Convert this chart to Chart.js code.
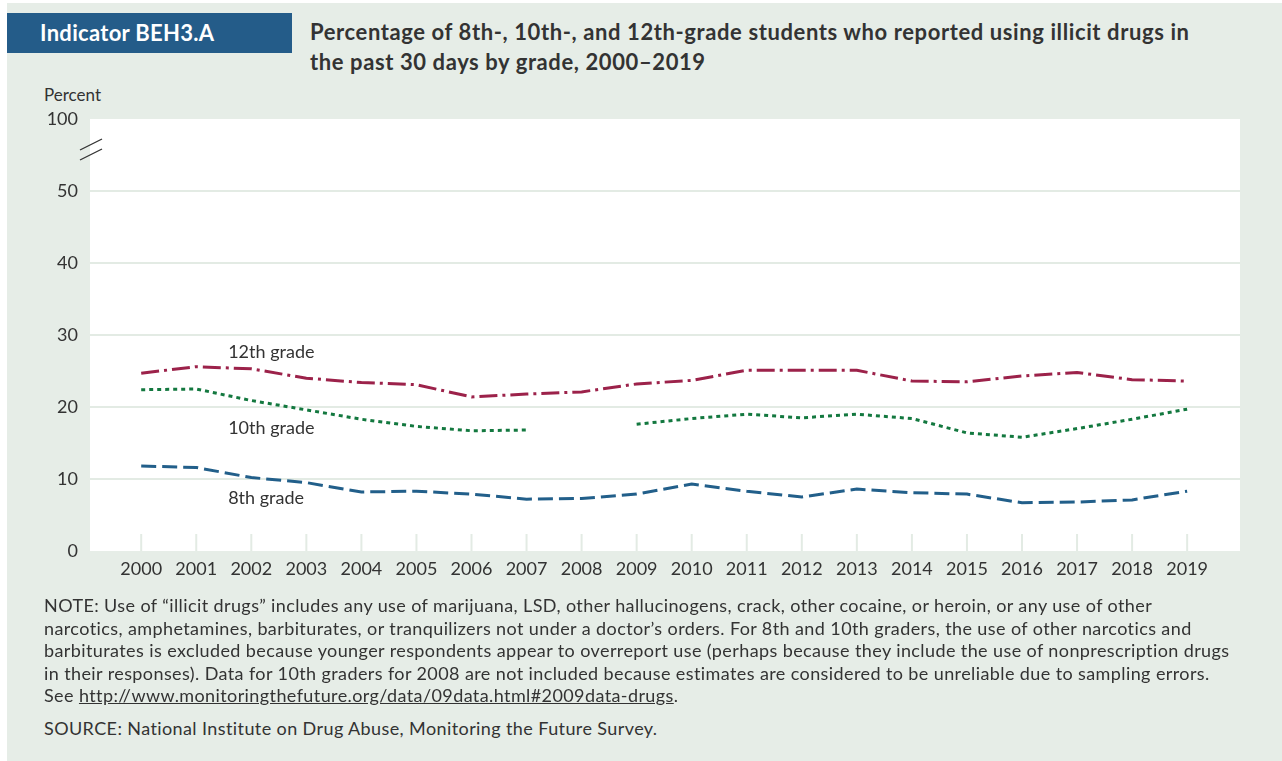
<!DOCTYPE html>
<html lang="en">
<head>
    <meta charset="UTF-8">
    <title>Indicator BEH3.A</title>
    <script src="https://cdn.jsdelivr.net/npm/chart.js"></script>
    <style>
        body {
            margin: 0;
            width: 1282px;
            height: 761px;
            background-color: #fff;
            font-family: 'Lato', sans-serif;
            color: #333;
            position: relative;
            overflow: hidden;
        }
        #fondo {
            position: absolute;
            left: 7px;
            top: 3px;
            width: 1275px;
            height: 758px;
            background-color: #e6ede7;
        }
        #indicador {
            position: absolute;
            left: 7px;
            top: 13px;
            width: 285px;
            height: 40px;
            background-color: #245c89;
            color: #fff;
            font-weight: bold;
            font-size: 22px;
            letter-spacing: 0.3px;
            line-height: 40px;
            box-sizing: border-box;
            padding-left: 33px;
        }
        #titulo {
            position: absolute;
            left: 310px;
            top: 17px;
            font-weight: bold;
            font-size: 22px;
            letter-spacing: 0.6px;
            line-height: 30px;
            color: #333;
            white-space: nowrap;
        }
        #percent {
            position: absolute;
            left: 44px;
            top: 84px;
            font-size: 17px;
        }
        #nota {
            position: absolute;
            left: 44px;
            top: 594px;
            font-size: 18px;
            letter-spacing: 0.4px;
            line-height: 22.5px;
            color: #333;
            white-space: nowrap;
        }
        #nota a { color: #333; }
        #fuente {
            position: absolute;
            left: 44px;
            top: 717px;
            font-size: 18px;
            letter-spacing: 0.4px;
        }
        #chartBox {
            position: absolute;
            left: 0;
            top: 0;
            width: 1282px;
            height: 600px;
        }
    </style>
</head>
<body>
    <div id="fondo"></div>
    <div id="indicador">Indicator BEH3.A</div>
    <div id="titulo">Percentage of 8th-, 10th-, and 12th-grade students who reported using illicit drugs in<br>the past 30 days by grade, 2000–2019</div>
    <div id="percent">Percent</div>
    <div id="chartBox"><canvas id="grafico" width="1282" height="600"></canvas></div>
    <div id="nota">NOTE: Use of “illicit drugs” includes any use of marijuana, LSD, other hallucinogens, crack, other cocaine, or heroin, or any use of other<br>narcotics, amphetamines, barbiturates, or tranquilizers not under a doctor’s orders. For 8th and 10th graders, the use of other narcotics and<br>barbiturates is excluded because younger respondents appear to overreport use (perhaps because they include the use of nonprescription drugs<br>in their responses). Data for 10th graders for 2008 are not included because estimates are considered to be unreliable due to sampling errors.<br>See <a href="#">http://www.monitoringthefuture.org/data/09data.html#2009data-drugs</a>.</div>
    <div id="fuente">SOURCE: National Institute on Drug Abuse, Monitoring the Future Survey.</div>

    <script>
        // Datos
        const years = [2000, 2001, 2002, 2003, 2004, 2005, 2006, 2007, 2008, 2009,
                       2010, 2011, 2012, 2013, 2014, 2015, 2016, 2017, 2018, 2019];
        const grade12 = [24.7, 25.6, 25.3, 24.0, 23.4, 23.1, 21.4, 21.8, 22.1, 23.2,
                         23.7, 25.1, 25.1, 25.1, 23.6, 23.5, 24.3, 24.8, 23.8, 23.6];
        const grade10 = [22.4, 22.5, 20.9, 19.6, 18.3, 17.3, 16.7, 16.8, null, 17.6,
                         18.4, 19.0, 18.5, 19.0, 18.4, 16.4, 15.8, 17.0, 18.3, 19.7];
        const grade8 = [11.8, 11.6, 10.2, 9.5, 8.2, 8.3, 7.9, 7.2, 7.3, 7.9,
                        9.3, 8.3, 7.5, 8.6, 8.1, 7.9, 6.7, 6.8, 7.1, 8.3];
        // eje y partido: el valor 60 se etiqueta como 100
        const yTickValues = [0, 10, 20, 30, 40, 50, 60];
        const yTickLabels = ['0', '10', '20', '30', '40', '50', '100'];
        const seriesLabels = ['12th grade', '10th grade', '8th grade'];
        const labelPos = [[2001.58, 27.6], [2001.58, 17.1], [2001.58, 7.4]];

        const fontName = 'Lato, sans-serif';

        const pts = arr => arr.map((v, i) => ({ x: years[i], y: v }));

        const fondoBlanco = {
            id: 'fondoBlanco',
            beforeDraw(chart) {
                const { ctx, chartArea: a } = chart;
                ctx.save();
                ctx.fillStyle = '#fff';
                ctx.fillRect(a.left, a.top, a.right - a.left, a.bottom - a.top);
                ctx.restore();
            }
        };

        const extras = {
            id: 'extras',
            beforeDatasetsDraw(chart) {
                const { ctx, chartArea: a, scales } = chart;
                // marcas de año dentro del área, abajo
                ctx.save();
                ctx.strokeStyle = '#e3ebe4';
                ctx.lineWidth = 2;
                years.forEach(yr => {
                    const x = scales.x.getPixelForValue(yr);
                    ctx.beginPath();
                    ctx.moveTo(x, a.bottom - 17);
                    ctx.lineTo(x, a.bottom);
                    ctx.stroke();
                });
                ctx.restore();
            },
            afterDraw(chart) {
                const { ctx, chartArea: a, scales } = chart;
                // símbolo de corte del eje
                const yb = scales.y.getPixelForValue(55.7);
                ctx.save();
                ctx.strokeStyle = '#333';
                ctx.lineWidth = 1.3;
                [-5, 5].forEach(off => {
                    ctx.beginPath();
                    ctx.moveTo(a.left - 10, yb + off + 5);
                    ctx.lineTo(a.left + 12, yb + off - 6);
                    ctx.stroke();
                });
                // etiquetas de las series
                ctx.fillStyle = '#333';
                ctx.font = '18px ' + fontName;
                ctx.textBaseline = 'middle';
                seriesLabels.forEach((t, i) => {
                    ctx.fillText(t, scales.x.getPixelForValue(labelPos[i][0]),
                                 scales.y.getPixelForValue(labelPos[i][1]));
                });
                ctx.restore();
            }
        };

        new Chart(document.getElementById('grafico'), {
            type: 'line',
            data: {
                datasets: [
                    {
                        label: seriesLabels[0],
                        data: pts(grade12),
                        borderColor: '#9c224a',
                        borderDash: [18, 5, 3, 5],
                        borderWidth: 3
                    },
                    {
                        label: seriesLabels[1],
                        data: pts(grade10),
                        borderColor: '#13783f',
                        borderDash: [4, 4],
                        borderWidth: 3,
                        spanGaps: false
                    },
                    {
                        label: seriesLabels[2],
                        data: pts(grade8),
                        borderColor: '#225f8a',
                        borderDash: [15, 6],
                        borderWidth: 3
                    }
                ]
            },
            options: {
                responsive: false,
                animation: false,
                devicePixelRatio: 1,
                layout: { padding: { top: 119, right: 42, left: 0, bottom: 0 } },
                elements: { point: { radius: 0 }, line: { tension: 0, borderCapStyle: 'butt' } },
                plugins: { legend: { display: false }, tooltip: { enabled: false } },
                scales: {
                    x: {
                        type: 'linear',
                        min: 1999.07,
                        max: 2019.96,
                        afterBuildTicks: s => { s.ticks = years.map(v => ({ value: v })); },
                        afterFit: s => { s.height = 49; },
                        grid: { display: false, drawTicks: false },
                        border: { display: false },
                        ticks: {
                            padding: 7,
                            color: '#333',
                            font: { family: fontName, size: 18 },
                            maxRotation: 0,
                            autoSkip: false,
                            callback: v => String(v)
                        }
                    },
                    y: {
                        min: 0,
                        max: 60,
                        afterBuildTicks: s => { s.ticks = yTickValues.map(v => ({ value: v })); },
                        afterFit: s => { s.width = 90; },
                        grid: {
                            drawTicks: false,
                            lineWidth: 2,
                            color: c => (c.tick.value === 0 || c.tick.value === 60) ? 'rgba(0,0,0,0)' : '#e3ebe4'
                        },
                        border: { display: false },
                        ticks: {
                            padding: 12,
                            color: '#333',
                            font: { family: fontName, size: 18 },
                            callback: v => yTickLabels[yTickValues.indexOf(v)]
                        }
                    }
                }
            },
            plugins: [fondoBlanco, extras]
        });
    </script>
</body>
</html>
